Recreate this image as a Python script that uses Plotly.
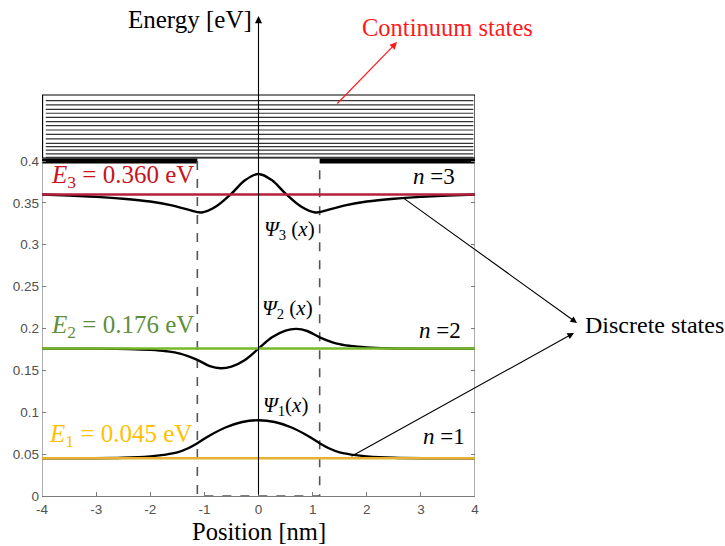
import plotly.graph_objects as go

# ---------------- data ----------------
x_ticks = [-4, -3, -2, -1, 0, 1, 2, 3, 4]
x_ticklabels = ["-4", "-3", "-2", "-1", "0", "1", "2", "3", "4"]
y_ticks = [0, 0.05, 0.1, 0.15, 0.2, 0.25, 0.3, 0.35, 0.4]
y_ticklabels = ["0", "0.05", "0.1", "0.15", "0.2", "0.25", "0.3", "0.35", "0.4"]

energies = [0.045, 0.176, 0.360]
energy_labels = ["0.045", "0.176", "0.360"]
well_half_width = 1.13
barrier = 0.4

psi1_x = [-4, -2.5, -2, -1.75, -1.5, -1.3, -1.13, -0.9, -0.6, -0.3, 0, 0.3, 0.6, 0.9, 1.13, 1.3, 1.5, 1.75, 2, 2.5, 4]
psi1_y = [0.045, 0.0457, 0.0473, 0.0491, 0.0520, 0.0570, 0.0630, 0.0723, 0.0821, 0.0884, 0.0905,
          0.0884, 0.0821, 0.0723, 0.0630, 0.0570, 0.0520, 0.0491, 0.0473, 0.0457, 0.045]

psi2_x = [-4, -3, -2.4, -2, -1.7, -1.45, -1.13, -0.9, -0.7, -0.5, -0.25, 0, 0.25, 0.5, 0.7, 0.9, 1.13, 1.45, 1.7, 2, 2.4, 3, 4]
psi2_y = [0.176, 0.176, 0.1755, 0.1745, 0.1728, 0.1700, 0.1625, 0.1550, 0.1525, 0.1545, 0.1625, 0.176,
          0.1895, 0.1975, 0.1995, 0.1970, 0.1895, 0.1820, 0.1792, 0.1775, 0.1765, 0.176, 0.176]

psi3_x = [-4, -3.5, -3, -2.5, -2, -1.6, -1.3, -1.05, -0.8, -0.5, -0.25, 0, 0.25, 0.5, 0.8, 1.05, 1.3, 1.6, 2, 2.5, 3, 3.5, 4]
psi3_y = [0.3600, 0.3588, 0.3572, 0.3550, 0.3516, 0.3470, 0.3420, 0.3385, 0.3450, 0.3610, 0.3770, 0.3845,
          0.3770, 0.3610, 0.3450, 0.3385, 0.3420, 0.3470, 0.3516, 0.3550, 0.3572, 0.3588, 0.3600]

continuum_levels = [0.4720, 0.4669, 0.4617, 0.4570, 0.4522, 0.4469, 0.4422, 0.4370,
                    0.4319, 0.4263, 0.4211, 0.4171, 0.4131, 0.4084, 0.4044]
continuum_box = [0.4036, 0.4788]

# ---------------- styles ----------------
level_line_colors = ["#E8B030", "#76B82A", "#B3203C"]
level_text_colors = ["#FFC000", "#5E8E3E", "#C8141E"]
serif = "Times New Roman, Liberation Serif, Tinos, serif"
sans = "Arial, Liberation Sans, sans-serif"
YMAX = 486 / 837.5

fig = go.Figure()

# continuum box
fig.add_trace(go.Scatter(x=[-3.99, 4, 4, -3.99, -3.99],
                         y=[continuum_box[0], continuum_box[0], continuum_box[1], continuum_box[1], continuum_box[0]],
                         mode="lines", line=dict(color="black", width=1.2), hoverinfo="skip"))
for lv in continuum_levels:
    fig.add_trace(go.Scatter(x=[-3.93, 3.97], y=[lv, lv], mode="lines",
                             line=dict(color="#333333", width=1.2), hoverinfo="skip"))

# barrier tops
fig.add_trace(go.Scatter(x=[-4, -well_half_width], y=[barrier, barrier], mode="lines",
                         line=dict(color="black", width=5), hoverinfo="skip"))
fig.add_trace(go.Scatter(x=[well_half_width, 4], y=[barrier, barrier], mode="lines",
                         line=dict(color="black", width=5), hoverinfo="skip"))

# well (dashed)
fig.add_trace(go.Scatter(x=[-well_half_width, -well_half_width, well_half_width, well_half_width],
                         y=[barrier, 0, 0, barrier], mode="lines",
                         line=dict(color="#555555", width=1.6, dash="dash"), hoverinfo="skip"))

# side axes (gray) from 0 to 0.4
fig.add_trace(go.Scatter(x=[-4, -4], y=[0, barrier], mode="lines",
                         line=dict(color="#7a7a7a", width=1.2), hoverinfo="skip"))
fig.add_trace(go.Scatter(x=[4, 4], y=[0, barrier], mode="lines",
                         line=dict(color="#7a7a7a", width=1.2), hoverinfo="skip"))

# wavefunctions
for xs, ys in [(psi1_x, psi1_y), (psi2_x, psi2_y), (psi3_x, psi3_y)]:
    fig.add_trace(go.Scatter(x=xs, y=ys, mode="lines",
                             line=dict(color="black", width=2.4, shape="spline", smoothing=1.0),
                             hoverinfo="skip"))

# energy levels (drawn on top)
for e, c in zip(energies, level_line_colors):
    fig.add_trace(go.Scatter(x=[-4, 4], y=[e, e], mode="lines",
                             line=dict(color=c, width=2.5), hoverinfo="skip"))

# invisible trace for mirrored right axis
fig.add_trace(go.Scatter(x=[0], y=[0], yaxis="y2", mode="markers",
                         marker=dict(opacity=0), hoverinfo="skip"))

# ---------------- annotations ----------------
ann = []
# energy axis arrow
ann.append(dict(x=0, y=(496 - 16) / 837.5, xref="x", yref="y",
                ax=0, ay=0, axref="x", ayref="y", text="", showarrow=True,
                arrowhead=2, arrowsize=1.3, arrowwidth=1.1, arrowcolor="black"))
ann.append(dict(x=-1.26, y=(496 - 19) / 837.5, xref="x", yref="y", text="Energy [eV]", showarrow=False,
                font=dict(family=serif, size=25, color="black"), xanchor="center", yanchor="middle"))

# continuum label and arrow
ann.append(dict(x=3.5, y=(496 - 27) / 837.5, xref="x", yref="y", text="Continuum states", showarrow=False,
                font=dict(family=serif, size=24.5, color="#FF1A1A"), xanchor="center", yanchor="middle"))
ann.append(dict(x=2.56, y=0.5421, xref="x", yref="y", ax=1.43, ay=0.4669, axref="x", ayref="y",
                text="", showarrow=True, arrowhead=2, arrowsize=1.2, arrowwidth=1.2, arrowcolor="#FF1A1A"))

# E labels
label_pos = [(-3.91, 0.0728), (-3.88, 0.2018), (-3.88, 0.381)]
for i, (e, lab) in enumerate(zip(energies, energy_labels)):
    px, py = label_pos[i]
    ann.append(dict(x=px, y=py, xref="x", yref="y",
                    text=f"<i>E</i><sub>{i+1}</sub> = {lab} eV", showarrow=False,
                    font=dict(family=serif, size=25, color=level_text_colors[i]),
                    xanchor="left", yanchor="middle"))

# n labels
n_pos = [(3.42, 0.0715), (3.35, 0.198), (3.25, 0.382)]
for i, (px, py) in enumerate(n_pos):
    ann.append(dict(x=px, y=py, xref="x", yref="y", text=f"<i>n</i> ={i+1}", showarrow=False,
                    font=dict(family=serif, size=23, color="black"), xanchor="center", yanchor="middle"))

# psi labels
psi_pos = [(0.05, 0.107, "<i>Ψ</i><sub>1</sub>(<i>x</i>)"),
           (0.03, 0.223, "<i>Ψ</i><sub>2</sub> (<i>x</i>)"),
           (0.06, 0.318, "<i>Ψ</i><sub>3</sub> (<i>x</i>)")]
for px, py, t in psi_pos:
    ann.append(dict(x=px, y=py, xref="x", yref="y", text=t, showarrow=False,
                    font=dict(family=serif, size=21, color="black"), xanchor="left", yanchor="middle"))

# x-axis title
ann.append(dict(x=0.0, y=(496 - 531) / 486, xref="x", yref="paper", text="Position [nm]",
                showarrow=False, font=dict(family=serif, size=24.5, color="black"),
                xanchor="center", yanchor="middle"))

# discrete states label and arrows
ann.append(dict(x=(583 - 42) / 433, y=(496 - 325) / 486, xref="paper", yref="paper",
                text="Discrete states", showarrow=False,
                font=dict(family=serif, size=24, color="black"), xanchor="left", yanchor="middle"))
ann.append(dict(x=(577 - 42) / 433, y=(496 - 323) / 486, xref="paper", yref="paper",
                ax=-175, ay=-126, text="", showarrow=True, arrowhead=2, arrowsize=1.2,
                arrowwidth=1.1, arrowcolor="black"))
ann.append(dict(x=(574 - 42) / 433, y=(496 - 333) / 486, xref="paper", yref="paper",
                ax=-224, ay=124, text="", showarrow=True, arrowhead=2, arrowsize=1.2,
                arrowwidth=1.1, arrowcolor="black"))

fig.update_layout(
    width=725, height=546,
    margin=dict(l=42, r=250, t=10, b=50, autoexpand=False),
    paper_bgcolor="white", plot_bgcolor="white",
    showlegend=False,
    annotations=ann,
    xaxis=dict(range=[-4, 4], tickvals=x_ticks, ticktext=x_ticklabels, automargin=False,
               ticks="inside", ticklen=4, tickcolor="#7a7a7a",
               showline=True, linecolor="#7a7a7a", linewidth=1.2, mirror=False,
               showgrid=False, zeroline=False, ticklabelstandoff=1,
               tickfont=dict(family=sans, size=13.5, color="#505050")),
    yaxis=dict(range=[0, YMAX], tickvals=y_ticks, ticktext=y_ticklabels, automargin=False,
               ticks="inside", ticklen=4, tickcolor="#7a7a7a",
               showline=False, showgrid=False, zeroline=False, ticklabelstandoff=2,
               tickfont=dict(family=sans, size=13.5, color="#505050")),
    yaxis2=dict(range=[0, YMAX], overlaying="y", side="right", tickvals=y_ticks, automargin=False,
                ticks="inside", ticklen=4, tickcolor="#7a7a7a", showticklabels=False,
                showline=False, showgrid=False, zeroline=False),
)

fig.write_html("out.html")
